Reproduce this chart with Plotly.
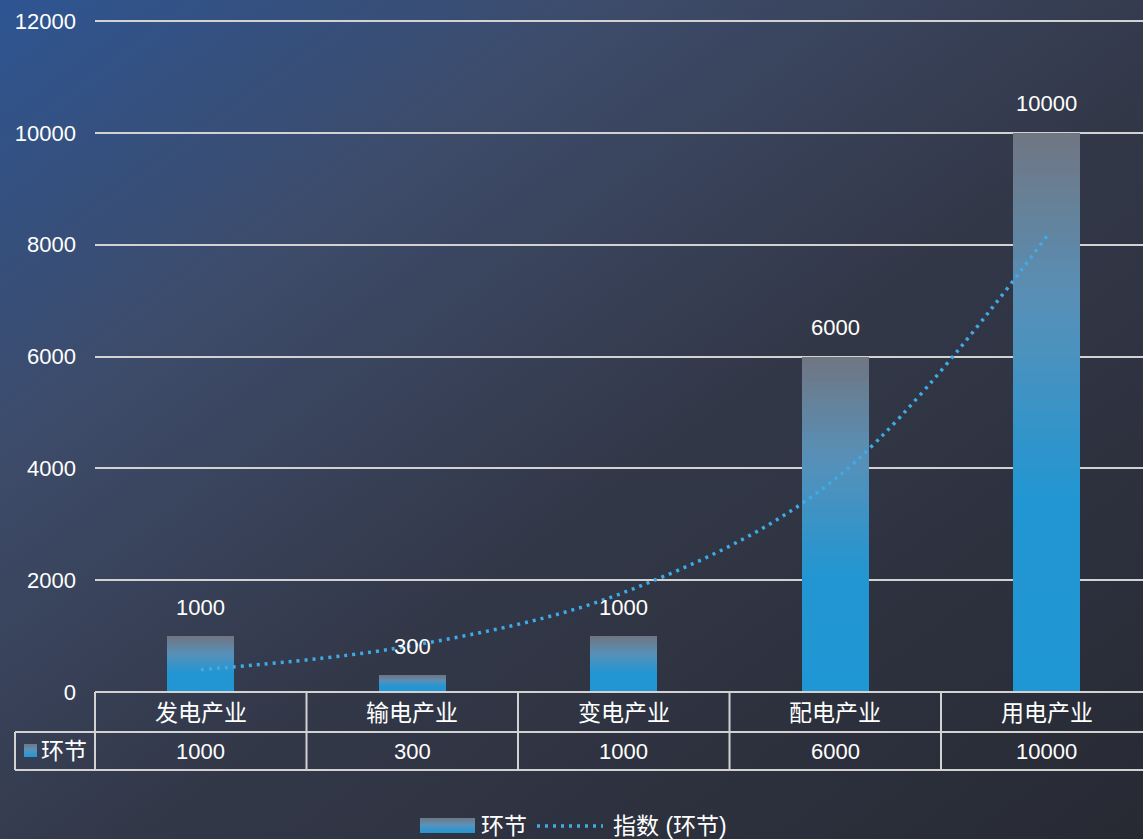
import base64
import plotly.graph_objects as go

# ---------------- data ----------------
categories = ["发电产业", "输电产业", "变电产业", "配电产业", "用电产业"]
values = [1000, 300, 1000, 6000, 10000]
trend_values = [400, 830, 1780, 3810, 8150]   # exponential trendline
series_name = "环节"
trend_name = "指数 (环节)"
y_ticks = [0, 2000, 4000, 6000, 8000, 10000, 12000]

# ---------------- geometry / style ----------------
W, H = 1143, 839
ML, MR, MT, MB = 95, 0, 21, 147
PW, PH = W - ML - MR, H - MT - MB
XR = [-0.5, 4.455]
FONT = "Liberation Sans, Arial, Noto Sans CJK SC, sans-serif"
WHITE = "#ffffff"
LINE = "#d2d2d2"
TREND = "#3eaae6"


def px_x(px):
    return (px - ML) / PW


def px_y(py):
    return (H - MB - py) / PH


def dx_paper(x):
    return (x - XR[0]) / (XR[1] - XR[0])


def svg_uri(svg):
    return "data:image/svg+xml;base64," + base64.b64encode(svg.encode()).decode()


bg_svg = f"""<svg xmlns='http://www.w3.org/2000/svg' width='{W}' height='{H}' viewBox='0 0 {W} {H}' preserveAspectRatio='none'>
<defs><linearGradient id='g' x1='0' y1='0' x2='1' y2='1'>
<stop offset='0' stop-color='#2e5592'/>
<stop offset='0.28' stop-color='#3d4b69'/>
<stop offset='0.55' stop-color='#333849'/>
<stop offset='1' stop-color='#272a33'/>
</linearGradient></defs>
<rect width='{W}' height='{H}' fill='url(#g)'/></svg>"""

swatch_svg = """<svg xmlns='http://www.w3.org/2000/svg' width='60' height='20' viewBox='0 0 60 20' preserveAspectRatio='none'>
<defs><linearGradient id='s' x1='0' y1='0' x2='0' y2='1'>
<stop offset='0' stop-color='#707782'/>
<stop offset='0.45' stop-color='#5a92bb'/>
<stop offset='1' stop-color='#1f97d4'/>
</linearGradient></defs>
<rect width='60' height='20' fill='url(#s)'/></svg>"""

# bar gradient colour stops (fraction of bar height from bottom)
stops = [(0.0, (31, 151, 212)), (0.35, (34, 150, 210)), (0.7, (88, 144, 184)), (1.0, (112, 118, 130))]


def grad_color(f):
    for (f0, c0), (f1, c1) in zip(stops[:-1], stops[1:]):
        if f <= f1:
            t = (f - f0) / (f1 - f0) if f1 > f0 else 0
            c = [round(a + (b - a) * t) for a, b in zip(c0, c1)]
            return f"rgb({c[0]},{c[1]},{c[2]})"
    c = stops[-1][1]
    return f"rgb({c[0]},{c[1]},{c[2]})"


fig = go.Figure()

N = 40
for i in range(N):
    f = (i + 0.5) / N
    fig.add_trace(go.Bar(
        x=categories,
        y=[v / N for v in values],
        width=0.317,
        marker=dict(color=grad_color(f), line=dict(width=0)),
        showlegend=False,
        hoverinfo="skip",
        name=series_name,
    ))

fig.add_trace(go.Scatter(
    x=categories,
    y=trend_values,
    mode="lines",
    line=dict(color=TREND, width=3.5, dash="3px,5px", shape="spline"),
    showlegend=False,
    name=trend_name,
))

annotations = []
# data labels
for c, v in zip(categories, values):
    annotations.append(dict(x=c, y=v, xref="x", yref="y", text=str(v), showarrow=False,
                            yshift=29, yanchor="middle", xanchor="center",
                            font=dict(size=22, color=WHITE, family=FONT)))

# table text
row1_y = px_y(713)
row2_y = px_y(751)
for c, v in zip(categories, values):
    annotations.append(dict(x=c, y=row1_y, xref="x", yref="paper", text=c, showarrow=False,
                            xanchor="center", yanchor="middle",
                            font=dict(size=23, color=WHITE, family=FONT)))
    annotations.append(dict(x=c, y=row2_y, xref="x", yref="paper", text=str(v), showarrow=False,
                            xanchor="center", yanchor="middle",
                            font=dict(size=22, color=WHITE, family=FONT)))
annotations.append(dict(x=px_x(39), y=row2_y, xref="paper", yref="paper", text=series_name,
                        xanchor="left", yanchor="middle", showarrow=False,
                        font=dict(size=23, color=WHITE, family=FONT)))

# legend text
leg_y = px_y(826)
annotations.append(dict(x=px_x(479), y=leg_y, xref="paper", yref="paper", text=series_name,
                        xanchor="left", yanchor="middle", showarrow=False,
                        font=dict(size=23, color=WHITE, family=FONT)))
annotations.append(dict(x=px_x(611), y=leg_y, xref="paper", yref="paper", text=trend_name,
                        xanchor="left", yanchor="middle", showarrow=False,
                        font=dict(size=23, color=WHITE, family=FONT)))

shapes = []
lw = 2
# top gridline (12000) and table lines
shapes.append(dict(type="line", xref="paper", yref="paper", x0=0, x1=1, y0=1, y1=1,
                   line=dict(color=LINE, width=lw)))
shapes.append(dict(type="line", xref="paper", yref="paper", x0=0, x1=1, y0=0, y1=0,
                   line=dict(color=LINE, width=lw)))
shapes.append(dict(type="line", xref="paper", yref="paper", x0=px_x(15), x1=1, y0=px_y(732), y1=px_y(732),
                   line=dict(color=LINE, width=lw)))
shapes.append(dict(type="line", xref="paper", yref="paper", x0=px_x(15), x1=1, y0=px_y(770), y1=px_y(770),
                   line=dict(color=LINE, width=lw)))
# vertical table lines
for k in range(len(categories)):
    xp = dx_paper(k - 0.5)
    shapes.append(dict(type="line", xref="paper", yref="paper", x0=xp, x1=xp, y0=0, y1=px_y(770),
                       line=dict(color=LINE, width=lw)))
shapes.append(dict(type="line", xref="paper", yref="paper", x0=px_x(15), x1=px_x(15),
                   y0=px_y(732), y1=px_y(770), line=dict(color=LINE, width=lw)))
# legend dotted line
shapes.append(dict(type="line", xref="paper", yref="paper", x0=px_x(537), x1=px_x(603),
                   y0=leg_y, y1=leg_y, line=dict(color=TREND, width=3.5, dash="3px,5px")))

images = [
    dict(source=svg_uri(bg_svg), xref="paper", yref="paper", x=px_x(0), y=px_y(0),
         sizex=W / PW, sizey=H / PH, xanchor="left", yanchor="top", sizing="stretch", layer="below"),
    dict(source=svg_uri(swatch_svg), xref="paper", yref="paper", x=px_x(420), y=px_y(818),
         sizex=55 / PW, sizey=15 / PH, xanchor="left", yanchor="top", sizing="stretch", layer="above"),
    dict(source=svg_uri(swatch_svg), xref="paper", yref="paper", x=px_x(24), y=px_y(744),
         sizex=13 / PW, sizey=13 / PH, xanchor="left", yanchor="top", sizing="stretch", layer="above"),
]

fig.update_layout(
    width=W, height=H,
    margin=dict(l=ML, r=MR, t=MT, b=MB, pad=0),
    paper_bgcolor="rgba(0,0,0,0)",
    plot_bgcolor="rgba(0,0,0,0)",
    barmode="stack",
    bargap=0,
    showlegend=False,
    font=dict(family=FONT, color=WHITE, size=22),
    xaxis=dict(type="category", range=XR, showticklabels=False, showgrid=False,
               zeroline=False, showline=False, ticks=""),
    yaxis=dict(range=[0, 12000], tickvals=y_ticks, ticktext=[str(t) for t in y_ticks],
               showgrid=True, gridcolor=LINE, gridwidth=2, zeroline=False, showline=False,
               ticks="", ticklabelstandoff=18, tickfont=dict(size=22, color=WHITE, family=FONT)),
    annotations=annotations,
    shapes=shapes,
    images=images,
)

fig.write_html("out.html")
